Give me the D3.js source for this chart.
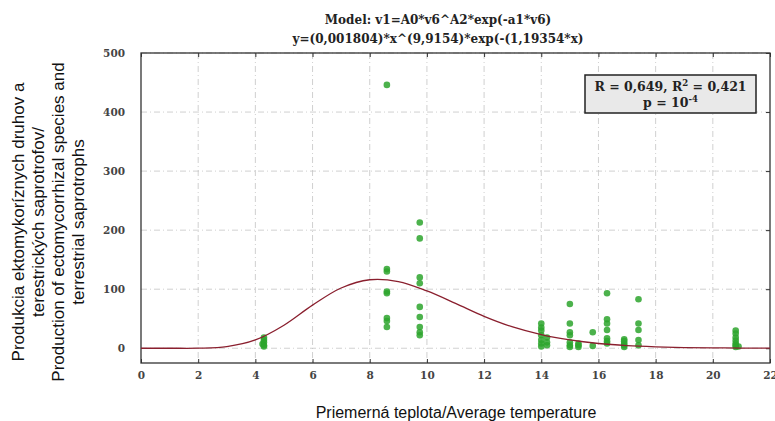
<!DOCTYPE html>
<html>
<head>
<meta charset="utf-8">
<script src="https://cdn.jsdelivr.net/npm/d3@7"></script>
<style>
  body { margin: 0; background: #fff; }
  svg { display: block; }
</style>
</head>
<body>
<div id="chart"></div>
<script>
// observed points (temperature, production)
var tempX = [
  4.3, 4.3, 4.3, 4.25, 4.3, 4.3,
  8.6, 8.6, 8.6, 8.6, 8.6, 8.6, 8.6, 8.6,
  9.75, 9.75, 9.75, 9.75, 9.75, 9.75, 9.75, 9.75, 9.75,
  14.0, 14.0, 14.0, 14.0, 14.0, 14.0, 14.0, 14.2, 14.2, 14.2,
  15.0, 15.0, 15.0, 15.0, 15.0, 15.0, 15.0, 15.3, 15.3, 15.3,
  15.8, 15.8,
  16.3, 16.3, 16.3, 16.3, 16.3, 16.3, 16.3,
  16.9, 16.9, 16.9, 16.9, 16.9,
  17.4, 17.4, 17.4, 17.4, 17.4,
  20.8, 20.8, 20.8, 20.8, 20.8, 20.8, 20.8, 20.9
];
var production = [
  18, 14, 10, 7, 5, 3,
  446, 134, 130, 96, 93, 51, 46, 36,
  213, 186, 120, 110, 70, 53, 36, 27, 22,
  42, 35, 30, 22, 14, 8, 3, 18, 10, 5,
  75, 42, 27, 22, 10, 5, 2, 5, 2, 8,
  27, 4,
  93, 49, 42, 31, 17, 12, 8,
  15, 12, 8, 5, 2,
  83, 42, 31, 14, 5,
  30, 25, 18, 13, 8, 5, 2, 3
];

// fitted curve at whole degrees
var curveX = [0, 1, 2, 3, 4, 5, 6, 7, 8, 9, 10, 11, 12, 13, 14, 15, 16, 17, 18, 19, 20, 21, 22];
var curveY = [0, 0, 0.1, 2.7, 14, 39, 73, 102, 116, 113, 97, 76, 54, 36, 23, 14, 8, 4.4, 2.4, 1.2, 0.6, 0.3, 0.1];

var xTicks = [0, 2, 4, 6, 8, 10, 12, 14, 16, 18, 20, 22];
var yTicks = [0, 100, 200, 300, 400, 500];

var titleLines = ["Model: v1=A0*v6^A2*exp(-a1*v6)", "y=(0,001804)*x^(9,9154)*exp(-(1,19354*x)"];
var yLabelLines = ["Produkcia ektomykoríznych druhov a", "terestrických saprotrofov/",
                   "Production of ectomycorrhizal species and", "terrestrial saprotrophs"];
var xLabel = "Priemerná teplota/Average temperature";

var width = 775, height = 421;
var margin = {top: 53, right: 5, bottom: 58, left: 141};
var w = width - margin.left - margin.right,
    h = height - margin.top - margin.bottom;

var serif = "'DejaVu Serif', serif",
    sans = "'Liberation Sans', Arial, sans-serif";

var svg = d3.select("#chart").append("svg").attr("width", width).attr("height", height);
svg.append("rect").attr("width", width).attr("height", height).attr("fill", "#fff");

var g = svg.append("g").attr("transform", "translate(" + margin.left + "," + margin.top + ")");

var x = d3.scaleLinear().domain([0, 22]).range([0, w]);
var y = d3.scaleLinear().domain([-25, 500]).range([h, 0]);

// grid
g.append("g").selectAll("line").data(xTicks.slice(1, -1)).join("line")
  .attr("x1", function(d) { return x(d); }).attr("x2", function(d) { return x(d); })
  .attr("y1", 0).attr("y2", h)
  .attr("stroke", "#c4c4c4").attr("stroke-width", 0.8).attr("stroke-dasharray", "6,3,1,3");
g.append("g").selectAll("line").data(yTicks).join("line")
  .attr("x1", 0).attr("x2", w)
  .attr("y1", function(d) { return y(d); }).attr("y2", function(d) { return y(d); })
  .attr("stroke", "#c4c4c4").attr("stroke-width", 0.8).attr("stroke-dasharray", "6,3,1,3");

// axes with inward ticks
var axB = g.append("g").attr("transform", "translate(0," + h + ")")
  .call(d3.axisBottom(x).tickValues(xTicks).tickSize(-4).tickPadding(9).tickFormat(d3.format("d")));
var axT = g.append("g")
  .call(d3.axisTop(x).tickValues(xTicks).tickSize(-4).tickFormat(""));
var axL = g.append("g")
  .call(d3.axisLeft(y).tickValues(yTicks).tickSize(0).tickPadding(16).tickFormat(d3.format("d")));
var axR = g.append("g").attr("transform", "translate(" + w + ",0)")
  .call(d3.axisRight(y).tickValues(yTicks).tickSize(-4).tickFormat(""));

[axB, axT, axL, axR].forEach(function(a) {
  a.select(".domain").remove();
  a.selectAll(".tick line").attr("stroke", "#333");
  a.selectAll("text").attr("font-family", serif)
    .attr("font-weight", "bold").attr("font-size", 10.5).attr("fill", "#444");
});

g.append("rect").attr("width", w).attr("height", h)
  .attr("fill", "none").attr("stroke", "#333").attr("stroke-width", 1.3);

// points
var pts = tempX.map(function(t, i) { return {t: t, v: production[i]}; });
g.append("g").selectAll("circle").data(pts).join("circle")
  .attr("cx", function(d) { return x(d.t); })
  .attr("cy", function(d) { return y(d.v); })
  .attr("r", 3.3)
  .attr("fill", "#2da52d")
  .attr("fill-opacity", 0.85);

// fitted curve
var line = d3.line()
  .x(function(d, i) { return x(curveX[i]); })
  .y(function(d) { return y(d); })
  .curve(d3.curveCatmullRom);
g.append("path").datum(curveY)
  .attr("fill", "none").attr("stroke", "#8a1f2e").attr("stroke-width", 1.3)
  .attr("d", line);

// stats box
var box = g.append("g").attr("transform", "translate(" + (585 - margin.left) + "," + (75 - margin.top) + ")");
box.append("rect").attr("width", 171).attr("height", 38)
  .attr("fill", "#e9e9e9").attr("stroke", "#222").attr("stroke-width", 1.5);
var t1 = box.append("text").attr("x", 85.5).attr("y", 16).attr("text-anchor", "middle")
  .attr("font-family", serif).attr("font-weight", "bold").attr("font-size", 12.5).attr("fill", "#222");
t1.append("tspan").text("R = 0,649, R");
t1.append("tspan").attr("font-size", 8.5).attr("dy", -5).text("2");
t1.append("tspan").attr("dy", 5).text(" = 0,421");
var t2 = box.append("text").attr("x", 85.5).attr("y", 32).attr("text-anchor", "middle")
  .attr("font-family", serif).attr("font-weight", "bold").attr("font-size", 12.5).attr("fill", "#222");
t2.append("tspan").text("p = 10");
t2.append("tspan").attr("font-size", 8.5).attr("dy", -5).text("-4");

// title
svg.append("g").selectAll("text").data(titleLines).join("text")
  .attr("x", 438).attr("y", function(d, i) { return 24 + i * 19; })
  .attr("text-anchor", "middle")
  .attr("font-family", serif).attr("font-weight", "bold").attr("font-size", 12)
  .attr("fill", "#222")
  .text(function(d) { return d; });

// axis labels
svg.append("text").attr("x", 456).attr("y", 418).attr("text-anchor", "middle")
  .attr("font-family", sans).attr("font-size", 16).attr("fill", "#111")
  .text(xLabel);

svg.append("g").attr("transform", "translate(0,222) rotate(-90)")
  .selectAll("text").data(yLabelLines).join("text")
  .attr("x", 0).attr("y", function(d, i) { return 24 + i * 20; })
  .attr("text-anchor", "middle")
  .attr("font-family", sans).attr("font-size", 17).attr("fill", "#111")
  .text(function(d) { return d; });
</script>
</body>
</html>
